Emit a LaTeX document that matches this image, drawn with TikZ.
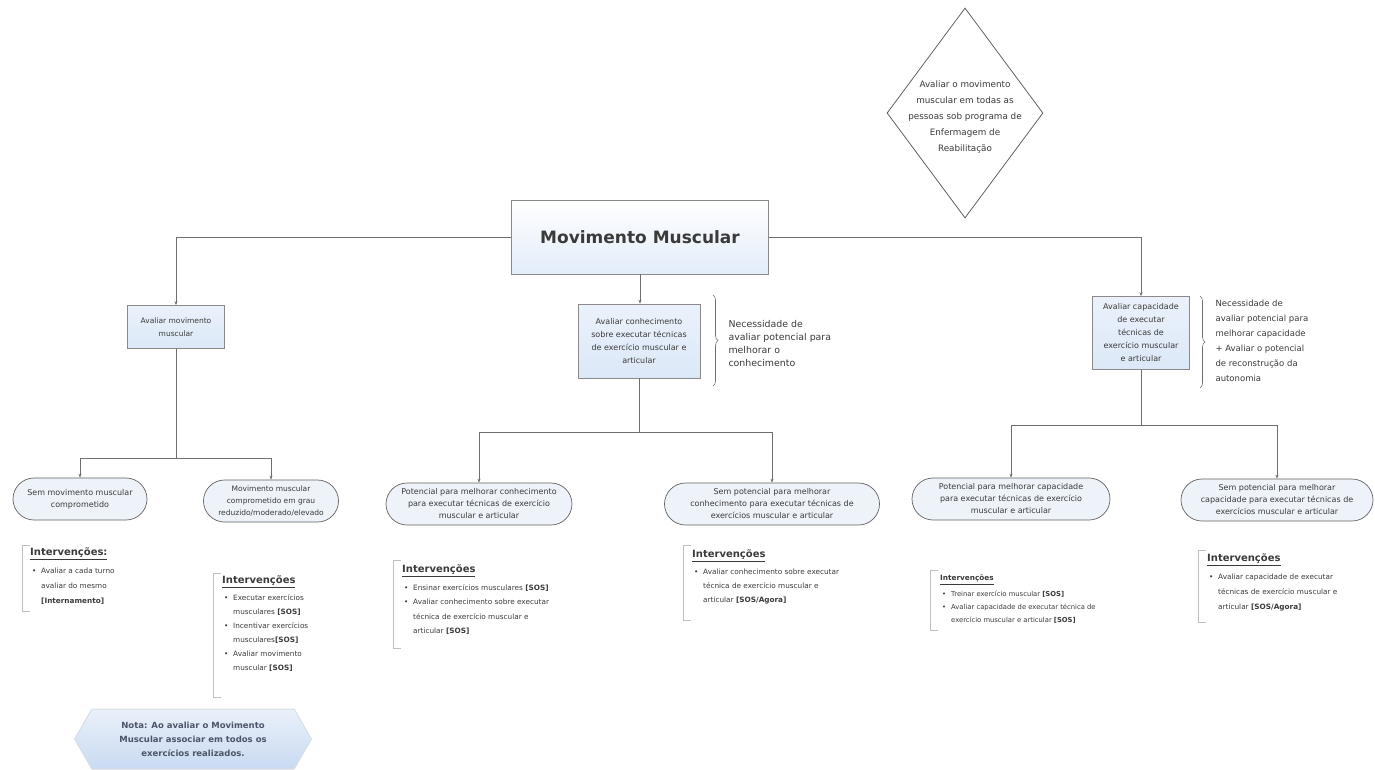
\documentclass[tikz,border=0pt]{standalone}
\usepackage{fontspec}
\setmainfont{DejaVu Sans}
\usetikzlibrary{shapes.geometric,shapes.misc,shapes.symbols,decorations.pathreplacing,arrows.meta}

\definecolor{linegray}{HTML}{6E6E6E}
\definecolor{boxedge}{HTML}{8A8A8A}
\definecolor{boxfill}{HTML}{DCE8F8}
\definecolor{leaffill}{HTML}{EEF3FA}
\definecolor{txt}{HTML}{3A3A3A}
\definecolor{notefill}{HTML}{C9DAF2}
\definecolor{notetext}{HTML}{4A5568}

% bullet item with hanging indent, and a line break that keeps the hang
\newcommand\itm{\par\noindent\hangindent=9pt\hangafter=1\makebox[9pt][l]{•}}
\newcommand\nl{\unskip\nobreak\hfil\break}
% heading of an intervention panel
\newcommand\ihead[2][10]{{\fontsize{#1}{#1}\selectfont\bfseries\underline{#2}}\par\vspace{3pt}}

\begin{document}
\begin{tikzpicture}[x=1pt,y=-1pt,
  every node/.style={text=txt},
  conn/.style={draw=linegray, line width=0.6pt},
  arr/.style={conn, -{Stealth[length=4pt,width=3pt]}},
  mainbox/.style={draw=boxedge, line width=0.8pt, top color=white, bottom color=boxfill!80,
    minimum width=257pt, minimum height=74pt, font=\fontsize{17}{19}\selectfont\bfseries},
  bluebox/.style={draw=boxedge, line width=0.7pt, top color=boxfill!60, bottom color=boxfill,
    align=center, inner sep=1pt, font=\fontsize{8}{13}\selectfont},
  leaf/.style={rounded rectangle, draw=txt!80, line width=0.7pt, fill=leaffill,
    align=center, inner sep=0pt, minimum height=42pt, font=\fontsize{8}{12}\selectfont},
  sidenote/.style={align=left, anchor=west, font=\fontsize{9.4}{13}\selectfont},
  brc/.style={draw=linegray, line width=0.6pt, decorate, decoration={brace, amplitude=5pt}},
  intv/.style={anchor=north west, align=flush left, inner sep=0pt},
  frame/.style={draw=black!25, line width=0.6pt}
]
\useasboundingbox (0,0) rectangle (1375,769);

% top diamond and its text
\node[diamond, draw=txt!80, line width=0.8pt, fill=white, minimum width=156pt,
  minimum height=210pt, inner sep=0pt] (goal) at (965,113) {};
\node[align=center, inner sep=0pt, font=\fontsize{8.8}{16}\selectfont] (goaltext) at (965,117)
  {Avaliar o movimento\\muscular em todas as\\pessoas sob programa de\\Enfermagem de\\Reabilitação};

% central title
\node[mainbox] (main) at (640,237) {Movimento Muscular};

% second level
\node[bluebox, minimum width=97pt, minimum height=43pt, font=\fontsize{7.5}{13}\selectfont] (lbox) at (176,327)
  {Avaliar movimento\\muscular};
\node[bluebox, minimum width=122pt, minimum height=74pt] (cbox) at (639,341)
  {Avaliar conhecimento\\sobre executar técnicas\\de exercício muscular e\\articular};
\node[bluebox, minimum width=97pt, minimum height=73pt] (rbox) at (1141,333)
  {Avaliar capacidade\\de executar\\técnicas de\\exercício muscular\\e articular};

\draw[arr] (main.west) -| (lbox.north);
\draw[arr] (main.east) -| (rbox.north);
\draw[arr] (main.south) -- (main.south |- cbox.north);

% braces with remarks
\coordinate (cb1) at (713,295);
\coordinate (cb2) at (713,386);
\draw[brc] (cb1) -- (cb2);
\node[sidenote] (cnote) at (725,343)
  {Necessidade de\\avaliar potencial para\\melhorar o\\conhecimento};

\coordinate (rb1) at (1200,296);
\coordinate (rb2) at (1200,388);
\draw[brc] (rb1) -- (rb2);
\node[sidenote, font=\fontsize{8.5}{15}\selectfont] (rnote) at (1212,341)
  {Necessidade de\\avaliar potencial para\\melhorar capacidade\\+ Avaliar o potencial\\de reconstrução da\\autonomia};

% leaves
\node[leaf, minimum width=134pt] (l1) at (80,499) {Sem movimento muscular\\comprometido};
\node[leaf, minimum width=135pt, font=\fontsize{7.5}{12}\selectfont] (l2) at (271,501) {Movimento muscular\\comprometido em grau\\reduzido/moderado/elevado};
\node[leaf, minimum width=186pt] (c1) at (479,504) {Potencial para melhorar conhecimento\\para executar técnicas de exercício\\muscular e articular};
\node[leaf, minimum width=215pt] (c2) at (772,504) {Sem potencial para melhorar\\conhecimento para executar técnicas de\\exercícios muscular e articular};
\node[leaf, minimum width=198pt] (r1) at (1011,499) {Potencial para melhorar capacidade\\para executar técnicas de exercício\\muscular e articular};
\node[leaf, minimum width=192pt] (r2) at (1277,500) {Sem potencial para melhorar\\capacidade para executar técnicas de\\exercícios muscular e articular};

% branch junctions
\coordinate (lj) at (176,458);
\coordinate (cj) at (639,432);
\coordinate (rj) at (1141,425);
\draw[conn] (lbox.south) -- (lj);
\draw[arr] (lj) -| (l1.north);
\draw[arr] (lj) -| (l2.north);
\draw[conn] (cbox.south) -- (cj);
\draw[arr] (cj) -| (c1.north);
\draw[arr] (cj) -| (c2.north);
\draw[conn] (rbox.south) -- (rj);
\draw[arr] (rj) -| (r1.north);
\draw[arr] (rj) -| (r2.north);

% intervention panels
\draw[frame] (30,545) -- (22,545) -- (22,611) -- (30,611);
\node[intv, text width=100pt] (i1) at (30,548)
  {\ihead{Intervenções:}
   {\fontsize{7.3}{15}\selectfont\leftskip=2pt
   \itm Avaliar a cada turno\nl avaliar do mesmo\par
   \hspace*{9pt}\textbf{[Internamento]}\par}};

\draw[frame] (221,573) -- (213,573) -- (213,697) -- (221,697);
\node[intv, text width=110pt] (i2) at (222,576)
  {\ihead{Intervenções}
   {\fontsize{7.3}{14}\selectfont\leftskip=2pt
   \itm Executar exercícios\nl musculares \textbf{[SOS]}
   \itm Incentivar exercícios\nl musculares\textbf{[SOS]}
   \itm Avaliar movimento\nl muscular \textbf{[SOS]}\par}};

\draw[frame] (401,560) -- (393,560) -- (393,648) -- (401,648);
\node[intv, text width=200pt] (i3) at (402,565)
  {\ihead{Intervenções}
   {\fontsize{7.3}{14.5}\selectfont\leftskip=2pt
   \itm Ensinar exercícios musculares \textbf{[SOS]}
   \itm Avaliar conhecimento sobre executar\nl técnica de exercício muscular e\nl articular \textbf{[SOS]}\par}};

\draw[frame] (691,545) -- (683,545) -- (683,620) -- (691,620);
\node[intv, text width=200pt] (i4) at (692,550)
  {\ihead{Intervenções}
   {\fontsize{7.3}{14}\selectfont\leftskip=2pt
   \itm Avaliar conhecimento sobre executar\nl técnica de exercício muscular e\nl articular \textbf{[SOS/Agora]}\par}};

\draw[frame] (938,570) -- (930,570) -- (930,630) -- (938,630);
\node[intv, text width=200pt] (i5) at (940,575)
  {\ihead[7.3]{Intervenções}
   {\fontsize{6.8}{13}\selectfont\leftskip=2pt
   \itm Treinar exercício muscular \textbf{[SOS]}
   \itm Avaliar capacidade de executar técnica de\nl exercício muscular e articular \textbf{[SOS]}\par}};

\draw[frame] (1206,550) -- (1198,550) -- (1198,622) -- (1206,622);
\node[intv, text width=180pt] (i6) at (1207,554)
  {\ihead{Intervenções}
   {\fontsize{7.3}{15}\selectfont\leftskip=2pt
   \itm Avaliar capacidade de executar\nl técnicas de exercício muscular e\nl articular \textbf{[SOS/Agora]}\par}};

% closing note
\node[signal, signal to=west and east, signal pointer angle=120, draw=notefill!80!black!40,
  line width=1pt, top color=notefill!40, bottom color=notefill, minimum width=237pt,
  minimum height=60pt, align=center, inner sep=1pt, text=notetext,
  font=\fontsize{8.5}{14}\selectfont\bfseries] (note) at (193,739)
  {Nota: Ao avaliar o Movimento\\Muscular associar em todos os\\exercícios realizados.};
\end{tikzpicture}
\end{document}
